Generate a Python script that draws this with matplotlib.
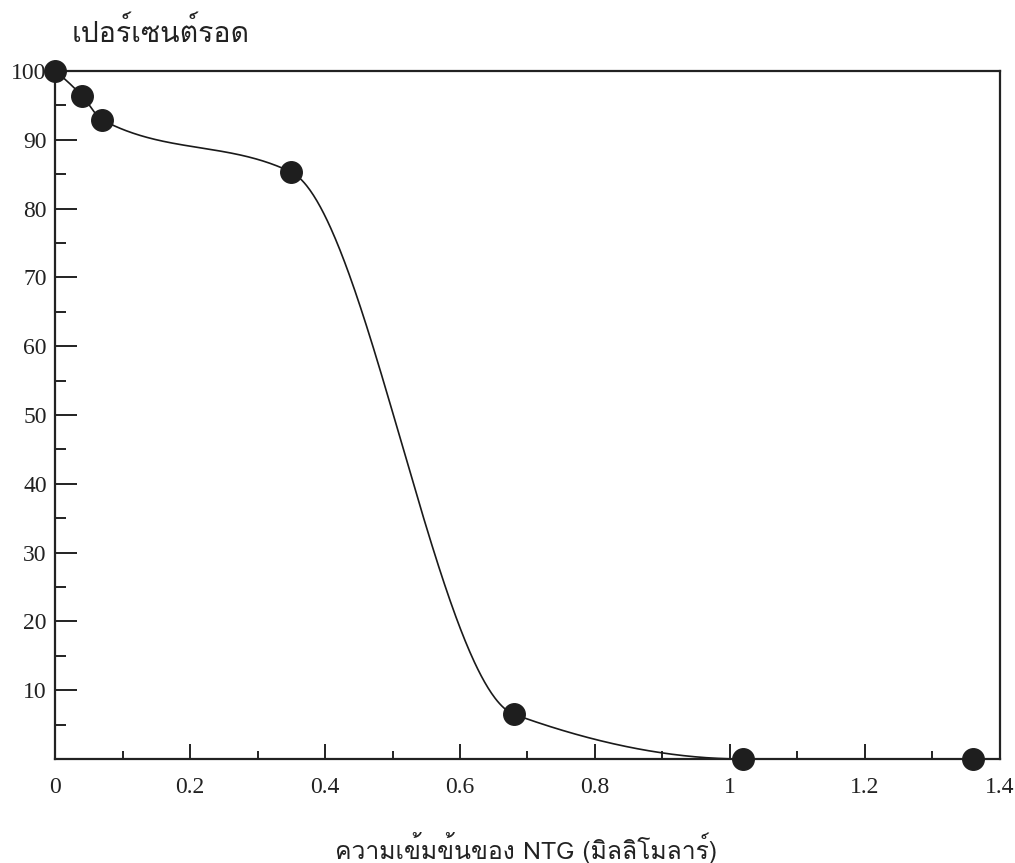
import numpy as np
import matplotlib
matplotlib.use("Agg")
import matplotlib.pyplot as plt
from matplotlib import font_manager
from matplotlib.ticker import MultipleLocator, FixedLocator

# ---- data ----
conc = [0.0, 0.04, 0.07, 0.35, 0.68, 1.02, 1.36]
survival = [100.0, 96.4, 92.9, 85.3, 6.5, 0.0, 0.0]
x_ticks = [0, 0.2, 0.4, 0.6, 0.8, 1.0, 1.2, 1.4]
x_tick_labels = ["0", "0.2", "0.4", "0.6", "0.8", "1", "1.2", "1.4"]
y_ticks = [10, 20, 30, 40, 50, 60, 70, 80, 90, 100]
y_label_text = "เปอร์เซนต์รอด"
x_label_text = "ความเข้มข้นของ NTG (มิลลิโมลาร์)"

# ---- find a font with Thai glyphs ----
thai_fonts = []
try:
    from fontTools.ttLib import TTFont
    seen = set()
    for f in font_manager.fontManager.ttflist:
        if f.name in seen:
            continue
        try:
            tt = TTFont(f.fname, fontNumber=0, lazy=True)
            cmap = tt.getBestCmap()
            if cmap and 0x0E01 in cmap and 0x0E40 in cmap:
                thai_fonts.append(f.name)
                seen.add(f.name)
        except Exception:
            pass
except Exception:
    pass
serif_list = ["Liberation Serif", "DejaVu Serif"] + thai_fonts
thai_list = thai_fonts + ["Liberation Serif", "DejaVu Sans"]


def pchip(x, y, xs):
    """Monotone piecewise cubic Hermite interpolation (Fritsch-Carlson)."""
    x = np.asarray(x, float)
    y = np.asarray(y, float)
    n = len(x)
    h = np.diff(x)
    d = np.diff(y) / h
    m = np.zeros(n)
    for k in range(1, n - 1):
        if d[k - 1] * d[k] <= 0:
            m[k] = 0.0
        else:
            w1 = 2 * h[k] + h[k - 1]
            w2 = h[k] + 2 * h[k - 1]
            m[k] = (w1 + w2) / (w1 / d[k - 1] + w2 / d[k])

    def end(h0, h1, d0, d1):
        v = ((2 * h0 + h1) * d0 - h0 * d1) / (h0 + h1)
        if np.sign(v) != np.sign(d0):
            v = 0.0
        elif np.sign(d0) != np.sign(d1) and abs(v) > abs(3 * d0):
            v = 3 * d0
        return v

    m[0] = end(h[0], h[1], d[0], d[1])
    m[-1] = end(h[-1], h[-2], d[-1], d[-2])
    ys = np.empty_like(xs)
    for j, xv in enumerate(xs):
        i = min(max(np.searchsorted(x, xv) - 1, 0), n - 2)
        t = (xv - x[i]) / h[i]
        h00 = 2 * t**3 - 3 * t**2 + 1
        h10 = t**3 - 2 * t**2 + t
        h01 = -2 * t**3 + 3 * t**2
        h11 = t**3 - t**2
        ys[j] = h00 * y[i] + h10 * h[i] * m[i] + h01 * y[i + 1] + h11 * h[i] * m[i + 1]
    return ys


fig = plt.figure(figsize=(10.15, 8.63), dpi=100)
ax = fig.add_axes([0.0542, 0.1205, 0.9310, 0.7972])

xs = np.linspace(conc[0], conc[-1], 800)
ax.plot(xs, pchip(conc, survival, xs), color="#1a1a1a", lw=1.2, zorder=2)
ax.plot(conc, survival, "o", ms=15.5, color="#1e1e1e", zorder=3, clip_on=False)

ax.set_xlim(0, 1.4)
ax.set_ylim(0, 100)
for s in ax.spines.values():
    s.set_linewidth(1.6)
    s.set_color("#222222")

ax.xaxis.set_major_locator(FixedLocator(x_ticks))
ax.set_xticklabels(x_tick_labels)
ax.xaxis.set_minor_locator(MultipleLocator(0.1))
ax.yaxis.set_major_locator(FixedLocator(y_ticks))
ax.yaxis.set_minor_locator(MultipleLocator(5))
ax.tick_params(axis="both", which="both", direction="in", color="#222222", width=1.4)
ax.tick_params(axis="y", which="major", length=16, pad=6)
ax.tick_params(axis="y", which="minor", length=8)
ax.tick_params(axis="x", which="major", length=11, pad=13)
ax.tick_params(axis="x", which="minor", length=6)
for lab in ax.get_xticklabels() + ax.get_yticklabels():
    lab.set_family(serif_list)
    lab.set_fontsize(17)
    lab.set_color("#222222")

fig.text(0.071, 0.962, y_label_text, family=thai_list, fontsize=20.5,
         color="#222222", ha="left", va="center")
fig.text(0.518, 0.017, x_label_text, family=thai_list, fontsize=17.8,
         color="#222222", ha="center", va="center")

fig.savefig("out.png", dpi=100, facecolor="white")
